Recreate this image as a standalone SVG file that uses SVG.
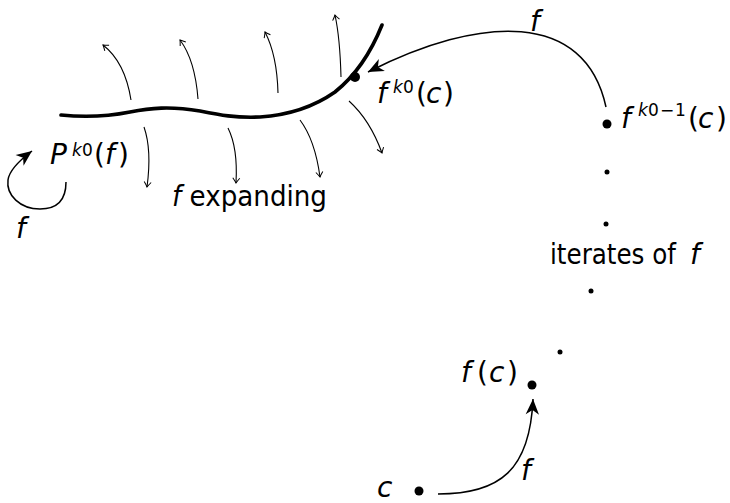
<svg xmlns="http://www.w3.org/2000/svg" width="730" height="503" viewBox="0 0 730 503">
<defs>
<style>
text{font-family:"DejaVu Sans","Liberation Sans",sans-serif;font-size:28px;fill:#000}
.i{font-style:italic}
.s{font-size:17px}
.thin{fill:none;stroke:#000;stroke-width:1.1}
.mid{fill:none;stroke:#000;stroke-width:1.5}
.thick{fill:none;stroke:#000;stroke-width:3.6;stroke-linecap:round}
</style>
<marker id="to" markerUnits="userSpaceOnUse" markerWidth="12" markerHeight="12" refX="0" refY="0" viewBox="-7 -6 8 12" orient="auto">
<path d="M-5,-3.5 Q-1.5,-0.8 0,0 Q-1.5,0.8 -5,3.5" fill="none" stroke="#000" stroke-width="1"/>
</marker>
<marker id="big" markerUnits="userSpaceOnUse" markerWidth="20" markerHeight="20" refX="0" refY="0" viewBox="-16 -8 18 16" orient="auto">
<path d="M0,0 L-14,-6 L-10,0 L-14,6 Z" fill="#000"/>
</marker>
</defs>
<g id="curve">
<path class="thick" d="M61,115 C90,118 110,116 130,112 C150,108 170,106 200,111 C220,115 235,118 260,117 C290,115 315,106 335,92 C355,76 370,55 382,25"/>
</g>
<g id="connectors">
<path class="thin" marker-end="url(#to)" d="M131,100 Q125,62 103,45"/>
<path class="thin" marker-end="url(#to)" d="M198,99 Q195,60 180,40"/>
<path class="thin" marker-end="url(#to)" d="M278,93 Q277,55 265,32"/>
<path class="thin" marker-end="url(#to)" d="M341,77 Q340,38 335,15"/>
<path class="thin" marker-end="url(#to)" d="M144,127 Q152,150 147,187"/>
<path class="thin" marker-end="url(#to)" d="M228,128 Q238,148 236,183"/>
<path class="thin" marker-end="url(#to)" d="M300,120 Q315,140 320,177"/>
<path class="thin" marker-end="url(#to)" d="M349,101 Q370,120 382,153"/>
<path class="mid" marker-end="url(#big)" d="M606,107 C585,10 480,15 368,72"/>
<path class="mid" marker-end="url(#big)" d="M438,494 C500,494 530,470 533,399"/>
<path class="mid" marker-end="url(#big)" d="M66,182 C66,205 52,209 40,209 C20,209 6,195 8,180 C9,172 16,163 32,151"/>
</g>
<g id="points">
<circle cx="355" cy="77" r="5"/>
<circle cx="607" cy="124" r="4.5"/>
<circle cx="607" cy="172" r="2.5"/>
<circle cx="606" cy="224" r="2.5"/>
<circle cx="591" cy="291" r="2.5"/>
<circle cx="560" cy="352" r="2.5"/>
<circle cx="532" cy="385" r="4.5"/>
<circle cx="419" cy="491" r="4.5"/>
</g>
<g id="labels">
<text x="50" y="164"><tspan class="i">P</tspan><tspan class="s i" x="72" y="156">k</tspan><tspan class="s" x="82" y="156">0</tspan><tspan x="94" y="164">(</tspan><tspan class="i" x="105">f</tspan><tspan x="118">)</tspan></text>
<text class="i" x="16" y="238">f</text>
<text x="172" y="206" textLength="155" lengthAdjust="spacingAndGlyphs"><tspan class="i">f</tspan> expanding</text>
<text x="377" y="103"><tspan class="i">f</tspan><tspan class="s i" x="393" y="93">k</tspan><tspan class="s" x="403" y="93">0</tspan><tspan x="416" y="103">(</tspan><tspan class="i" x="426">c</tspan><tspan x="443">)</tspan></text>
<text class="i" x="530" y="31">f</text>
<text x="621" y="128"><tspan class="i">f</tspan><tspan class="s i" x="638" y="116">k</tspan><tspan class="s" x="648" y="116">0</tspan><tspan class="s" x="660" y="116">−</tspan><tspan class="s" x="675" y="116">1</tspan><tspan x="688" y="128">(</tspan><tspan class="i" x="698">c</tspan><tspan x="716">)</tspan></text>
<text x="550" y="264" textLength="126" lengthAdjust="spacingAndGlyphs">iterates of</text>
<text class="i" x="690" y="264">f</text>
<text x="461" y="382"><tspan class="i">f</tspan><tspan x="477">(</tspan><tspan class="i" x="489">c</tspan><tspan x="507">)</tspan></text>
<text class="i" x="521" y="480">f</text>
<text class="i" x="377" y="497">c</text>
</g>
</svg>
